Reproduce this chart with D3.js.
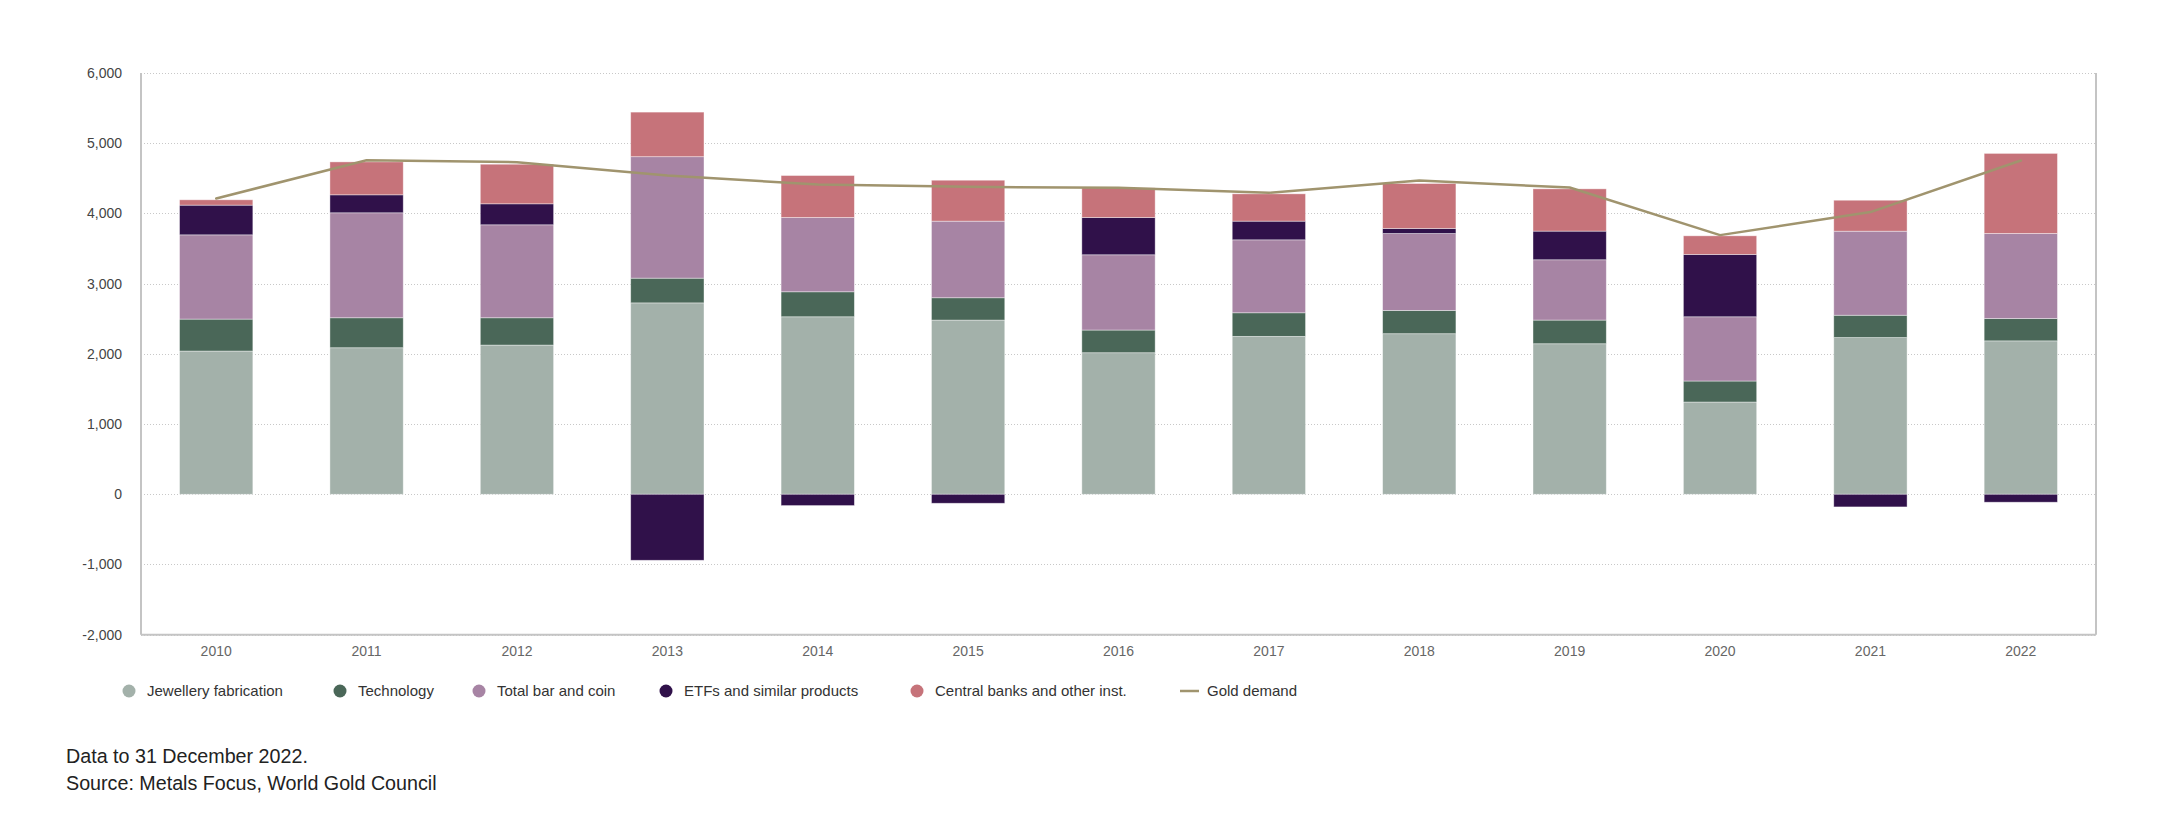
<!DOCTYPE html>
<html>
<head>
<meta charset="utf-8">
<script src="https://cdn.jsdelivr.net/npm/d3@7"></script>
<style>
  html, body { margin: 0; padding: 0; background: #fff; }
  svg { display: block; font-family: "Liberation Sans", Arial, Helvetica, sans-serif; }
</style>
</head>
<body>
<svg id="chart" width="2162" height="834"></svg>
<script>
// ---- Data (tonnes) ----
const years = ["2010","2011","2012","2013","2014","2015","2016","2017","2018","2019","2020","2021","2022"];
const jewellery    = [2040, 2087, 2125, 2726, 2528, 2481, 2016, 2249, 2287, 2144, 1314, 2232, 2185];
const technology   = [ 455,  427,  389,  352,  356,  318,  323,  336,  332,  337,  299,  318,  318];
const barCoin      = [1200, 1495, 1324, 1730, 1058, 1091, 1072, 1039, 1095,  859,  915, 1197, 1212];
const etfs         = [ 423,  256,  299, -940, -161, -128,  531,  266,   72,  408,  888, -180, -113];
const centralBanks = [  76,  469,  564,  635,  598,  583,  422,  389,  640,  602,  265,  441, 1140];
const goldDemand   = [4213, 4758, 4730, 4540, 4412, 4379, 4364, 4293, 4469, 4369, 3691, 4019, 4754];
const yTicks = [-2000, -1000, 0, 1000, 2000, 3000, 4000, 5000, 6000];
const seriesNames = ["Jewellery fabrication", "Technology", "Total bar and coin", "ETFs and similar products", "Central banks and other inst."];
const lineName = "Gold demand";
const notes = ["Data to 31 December 2022.", "Source: Metals Focus, World Gold Council"];

// ---- Styles ----
const colors = ["#a3b1aa", "#4a6758", "#a784a4", "#30114a", "#c6737a"];
const lineColor = "#a0946e";

const svg = d3.select("#chart");
const plot = { left: 141, right: 2096, top: 73, bottom: 634.7 };

const x = d3.scaleBand().domain(years).range([plot.left, plot.right])
  .paddingInner(0.5125).paddingOuter(0.25625);
const y = d3.scaleLinear().domain([-2000, 6000]).range([plot.bottom, plot.top]);

// table for stacking
const keys = ["j", "t", "b", "e", "c"];
const table = years.map((yr, i) => ({
  year: yr, j: jewellery[i], t: technology[i], b: barCoin[i], e: etfs[i], c: centralBanks[i]
}));
const stacked = d3.stack().keys(keys).offset(d3.stackOffsetDiverging)(table);

// gridlines
svg.append("g").selectAll("line").data(yTicks).join("line")
  .attr("x1", plot.left).attr("x2", plot.right)
  .attr("y1", d => Math.round(y(d)) + 0.5).attr("y2", d => Math.round(y(d)) + 0.5)
  .attr("stroke", "#c8c8c8").attr("stroke-width", 1).attr("stroke-dasharray", "1,2");

// bars
const gBars = svg.append("g");
stacked.forEach((layer, li) => {
  gBars.append("g").attr("fill", colors[li]).selectAll("rect").data(layer).join("rect")
    .attr("x", d => x(d.data.year))
    .attr("width", x.bandwidth())
    .attr("y", d => y(Math.max(d[0], d[1])))
    .attr("height", d => Math.abs(y(d[0]) - y(d[1])))
    .attr("stroke", "#ffffff").attr("stroke-opacity", 0.5).attr("stroke-width", 0.8);
});

// line
const line = d3.line()
  .x((d, i) => x(years[i]) + x.bandwidth() / 2)
  .y(d => y(d));
svg.append("path").datum(goldDemand)
  .attr("d", line).attr("fill", "none")
  .attr("stroke", lineColor).attr("stroke-width", 2.5)
  .attr("stroke-linejoin", "round").attr("stroke-linecap", "round");

// axes frame lines (left, bottom, right)
const frame = svg.append("g").attr("stroke", "#c4c4c4").attr("stroke-width", 2).attr("fill", "none");
frame.append("line").attr("x1", plot.left).attr("x2", plot.left).attr("y1", plot.top).attr("y2", plot.bottom);
frame.append("line").attr("x1", plot.left).attr("x2", plot.right).attr("y1", plot.bottom).attr("y2", plot.bottom);
frame.append("line").attr("x1", plot.right).attr("x2", plot.right).attr("y1", plot.top).attr("y2", plot.bottom);

// y axis labels (hyphen-minus as in the reference)
const locale = d3.formatLocale({ decimal: ".", thousands: ",", grouping: [3], currency: ["", ""], minus: "-" });
const yAxis = d3.axisLeft(y).tickValues(yTicks).tickFormat(locale.format(",")).tickSize(0).tickPadding(0);
const gy = svg.append("g").attr("transform", `translate(${122},0)`).call(yAxis);
gy.select(".domain").remove();
gy.selectAll("text").attr("font-size", 14).attr("fill", "#444")
  .attr("font-family", "Liberation Sans, Arial, sans-serif");

// x axis labels
const xAxis = d3.axisBottom(x).tickSize(0).tickPadding(0);
const gx = svg.append("g").attr("transform", `translate(0,${646})`).call(xAxis);
gx.select(".domain").remove();
gx.selectAll("text").attr("font-size", 14).attr("fill", "#666")
  .attr("font-family", "Liberation Sans, Arial, sans-serif");

// legend
const legendY = 691;
const legendX = [129, 340, 479, 666, 917];
const leg = svg.append("g").attr("font-size", 15).attr("fill", "#333");
seriesNames.forEach((name, i) => {
  leg.append("circle").attr("cx", legendX[i]).attr("cy", legendY).attr("r", 6.5).attr("fill", colors[i]);
  leg.append("text").attr("x", legendX[i] + 18).attr("y", legendY).attr("dy", "0.35em").text(name);
});
leg.append("line").attr("x1", 1180).attr("x2", 1199).attr("y1", legendY).attr("y2", legendY)
  .attr("stroke", lineColor).attr("stroke-width", 2.5);
leg.append("text").attr("x", 1207).attr("y", legendY).attr("dy", "0.35em").text(lineName);

// notes
svg.append("g").attr("font-size", 19.7).attr("fill", "#222")
  .selectAll("text").data(notes).join("text")
  .attr("x", 66).attr("y", (d, i) => 763 + i * 27).text(d => d);
</script>
</body>
</html>
